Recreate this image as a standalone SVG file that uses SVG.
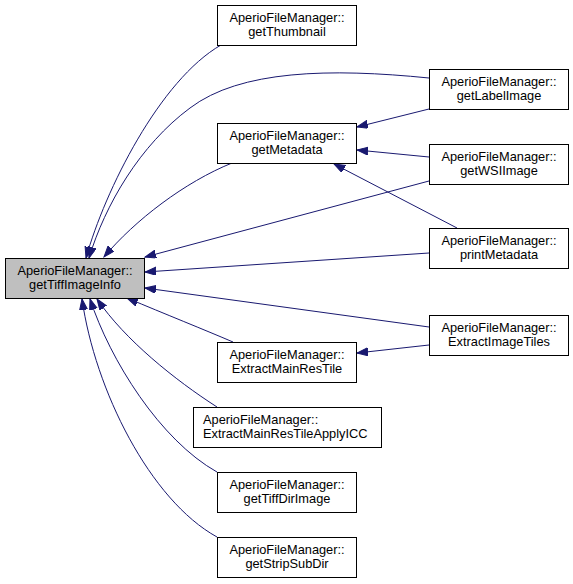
<svg xmlns="http://www.w3.org/2000/svg" width="573" height="584" viewBox="0 0 573 584">
<defs>
<style>
.node rect{fill:#ffffff;stroke:#000000;stroke-width:1}
.node.main rect{fill:#bfbfbf}
.node text{font-family:"Liberation Sans",Arial,sans-serif;font-size:12.8px;fill:#000000;text-anchor:middle}
.node.left text{text-anchor:start}
.edges path{fill:none;stroke:#191970;stroke-width:1;marker-end:url(#arr)}
</style>
<marker id="arr" markerUnits="userSpaceOnUse" markerWidth="12" markerHeight="9" refX="11" refY="4" orient="auto">
<path d="M0,0 L11,4 L0,8 Z" fill="#191970" stroke="#191970" stroke-width="1"/>
</marker>
</defs>
<rect width="573" height="584" fill="#ffffff"/>
<g class="edges">
<path d="M221,45 C160,80 105,190 86,258"/>
<path d="M429,78 C330,68 240,70 190,108 C140,145 105,205 89,258"/>
<path d="M232,163 C185,182 135,220 104,257"/>
<path d="M429,181 L145,257"/>
<path d="M429,109 L357,127"/>
<path d="M429,157 L357,150"/>
<path d="M457,228 L334,164"/>
<path d="M429,253 L145,272"/>
<path d="M429,327 L145,288"/>
<path d="M429,345 L357,353"/>
<path d="M233,342 C205,330 165,314 127,298"/>
<path d="M217,407 C175,380 125,340 97,299"/>
<path d="M217,472 C160,440 110,360 90,299"/>
<path d="M217,537 C150,500 95,390 82,299"/>
</g>
<g id="node_main" class="node main"><rect x="5.5" y="258.5" width="139" height="40"/><text x="75" y="275">AperioFileManager::</text><text x="75" y="289">getTiffImageInfo</text></g>
<g id="node_getThumbnail" class="node"><rect x="217.5" y="5.5" width="139" height="40"/><text x="287" y="22">AperioFileManager::</text><text x="287" y="36">getThumbnail</text></g>
<g id="node_getMetadata" class="node"><rect x="217.5" y="123.5" width="139" height="40"/><text x="287" y="140">AperioFileManager::</text><text x="287" y="154">getMetadata</text></g>
<g id="node_ExtractMainResTile" class="node"><rect x="217.5" y="342.5" width="139" height="40"/><text x="287" y="359">AperioFileManager::</text><text x="287" y="373">ExtractMainResTile</text></g>
<g id="node_ExtractMainResTileApplyICC" class="node left"><rect x="193.5" y="407.5" width="188" height="40"/><text x="203" y="424">AperioFileManager::</text><text x="203" y="438">ExtractMainResTileApplyICC</text></g>
<g id="node_getTiffDirImage" class="node"><rect x="217.5" y="472.5" width="139" height="40"/><text x="287" y="489">AperioFileManager::</text><text x="287" y="503">getTiffDirImage</text></g>
<g id="node_getStripSubDir" class="node"><rect x="217.5" y="537.5" width="139" height="40"/><text x="287" y="554">AperioFileManager::</text><text x="287" y="568">getStripSubDir</text></g>
<g id="node_getLabelImage" class="node"><rect x="429.5" y="69.5" width="139" height="40"/><text x="499" y="86">AperioFileManager::</text><text x="499" y="100">getLabelImage</text></g>
<g id="node_getWSIImage" class="node"><rect x="429.5" y="144.5" width="139" height="40"/><text x="499" y="161">AperioFileManager::</text><text x="499" y="175">getWSIImage</text></g>
<g id="node_printMetadata" class="node"><rect x="429.5" y="228.5" width="139" height="40"/><text x="499" y="245">AperioFileManager::</text><text x="499" y="259">printMetadata</text></g>
<g id="node_ExtractImageTiles" class="node"><rect x="429.5" y="315.5" width="139" height="40"/><text x="499" y="332">AperioFileManager::</text><text x="499" y="346">ExtractImageTiles</text></g>
</svg>
